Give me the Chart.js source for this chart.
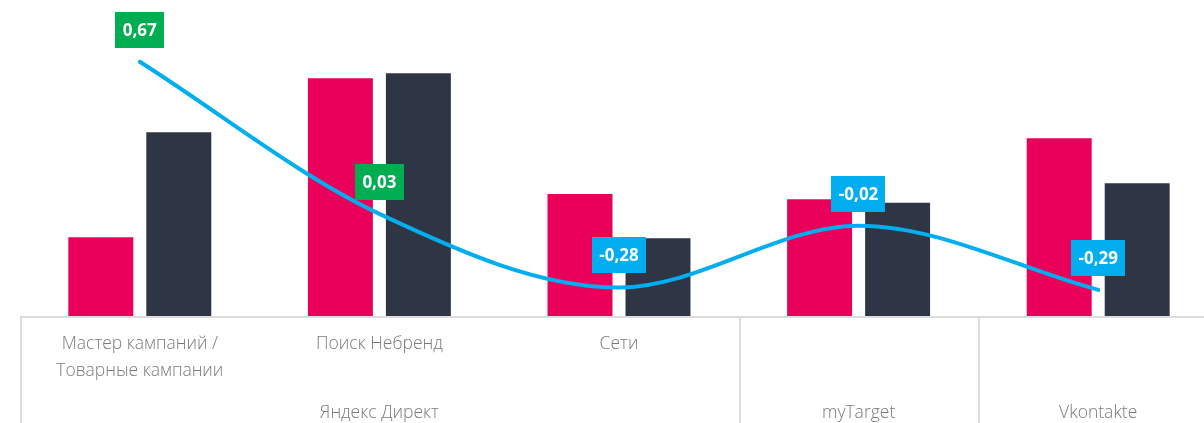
<!DOCTYPE html>
<html>
<head>
<meta charset="utf-8">
<script src="https://cdn.jsdelivr.net/npm/chart.js@4/dist/chart.umd.min.js"></script>
<style>
  html, body { margin: 0; padding: 0; background: #fff; overflow: hidden; width: 1204px; height: 423px; }
  #wrap { position: relative; width: 1218px; height: 423px; }
</style>
</head>
<body>
<div id="wrap"><canvas id="c" width="1218" height="423"></canvas></div>
<script>
// ---- data ----
const categories = [["Мастер кампаний /", "Товарные кампании"], ["Поиск Небренд"], ["Сети"], [""], [""]];
const groupNames = ["Яндекс Директ", "myTarget", "Vkontakte"];
const groupSpans = [3, 1, 1];
const seriesPink = [78.7, 237.7, 122, 116.7, 177.7];
const seriesNavy = [183.7, 242.7, 77.7, 113.3, 132.7];
const lineValues = [0.67, 0.03, -0.28, -0.02, -0.29];
const lineLabels = ["0,67", "0,03", "-0,28", "-0,02", "-0,29"];

const PINK = '#e8005a', NAVY = '#2e3545', BLUE = '#00aeef', GREEN = '#00ad50';
const GRID = '#dcdcdc', TEXT = '#7a7a7a';

const axisPlugin = {
  id: 'axisPlugin',
  afterDraw(chart) {
    const ctx = chart.ctx, x = chart.scales.x, area = chart.chartArea;
    const cw = (x.getPixelForValue(1) - x.getPixelForValue(0));
    const H = chart.height;
    ctx.save();
    ctx.strokeStyle = GRID; ctx.lineWidth = 2;
    ctx.beginPath();
    ctx.moveTo(area.left, area.bottom + 1); ctx.lineTo(area.right + 10, area.bottom + 1);
    ctx.stroke();
    let idx = 0;
    const bounds = [0];
    groupSpans.forEach(s => { idx += s; bounds.push(idx); });
    bounds.forEach(b => {
      const px = Math.round(x.getPixelForValue(b) - cw / 2) + 1;
      ctx.beginPath(); ctx.moveTo(px, area.bottom + 1); ctx.lineTo(px, H); ctx.stroke();
    });
    ctx.fillStyle = TEXT;
    ctx.font = '300 17.5px "Open Sans"';
    ctx.textAlign = 'center'; ctx.textBaseline = 'middle';
    categories.forEach((lines, i) => {
      const px = x.getPixelForValue(i);
      lines.forEach((t, j) => ctx.fillText(t, px, area.bottom + 28 + j * 27));
    });
    let start = 0;
    groupNames.forEach((g, gi) => {
      const a = x.getPixelForValue(start) - cw / 2;
      const b = x.getPixelForValue(start + groupSpans[gi] - 1) + cw / 2;
      ctx.fillText(g, (a + b) / 2, area.bottom + 97);
      start += groupSpans[gi];
    });
    ctx.restore();
  }
};

const labelPlugin = {
  id: 'labelPlugin',
  afterDatasetsDraw(chart) {
    const ctx = chart.ctx;
    const meta = chart.getDatasetMeta(2);
    ctx.save();
    ctx.font = 'bold 17px "Open Sans"';
    ctx.textAlign = 'center'; ctx.textBaseline = 'middle';
    meta.data.forEach((pt, i) => {
      const t = lineLabels[i];
      const w = ctx.measureText(t).width + 15;
      const h = 36;
      const cx = pt.x, cy = pt.y - 32;
      ctx.fillStyle = lineValues[i] > 0 ? GREEN : BLUE;
      ctx.fillRect(Math.round(cx - w / 2), Math.round(cy - h / 2), Math.round(w), h);
      ctx.fillStyle = '#fff';
      ctx.fillText(t, cx, cy + 1);
    });
    ctx.restore();
  }
};

new Chart(document.getElementById('c'), {
  data: {
    labels: categories.map(c => c.join(' ')),
    datasets: [
      { type: 'bar', data: seriesPink, backgroundColor: PINK, yAxisID: 'y', order: 2,
        categoryPercentage: 0.651, barPercentage: 0.833 },
      { type: 'bar', data: seriesNavy, backgroundColor: NAVY, yAxisID: 'y', order: 2,
        categoryPercentage: 0.651, barPercentage: 0.833 },
      { type: 'line', data: lineValues, borderColor: BLUE, borderWidth: 4, yAxisID: 'y2', order: 1,
        pointRadius: 0, cubicInterpolationMode: 'monotone', borderCapStyle: 'round', fill: false }
    ]
  },
  options: {
    responsive: false,
    animation: false,
    layout: { padding: { left: 20, right: 0, top: 0, bottom: 107 } },
    plugins: { legend: { display: false }, tooltip: { enabled: false } },
    scales: {
      x: { display: false },
      y: { display: false, min: 0, max: 316 },
      y2: { display: false, min: -0.4, max: 0.93 }
    }
  },
  plugins: [axisPlugin, labelPlugin]
});
</script>
</body>
</html>
